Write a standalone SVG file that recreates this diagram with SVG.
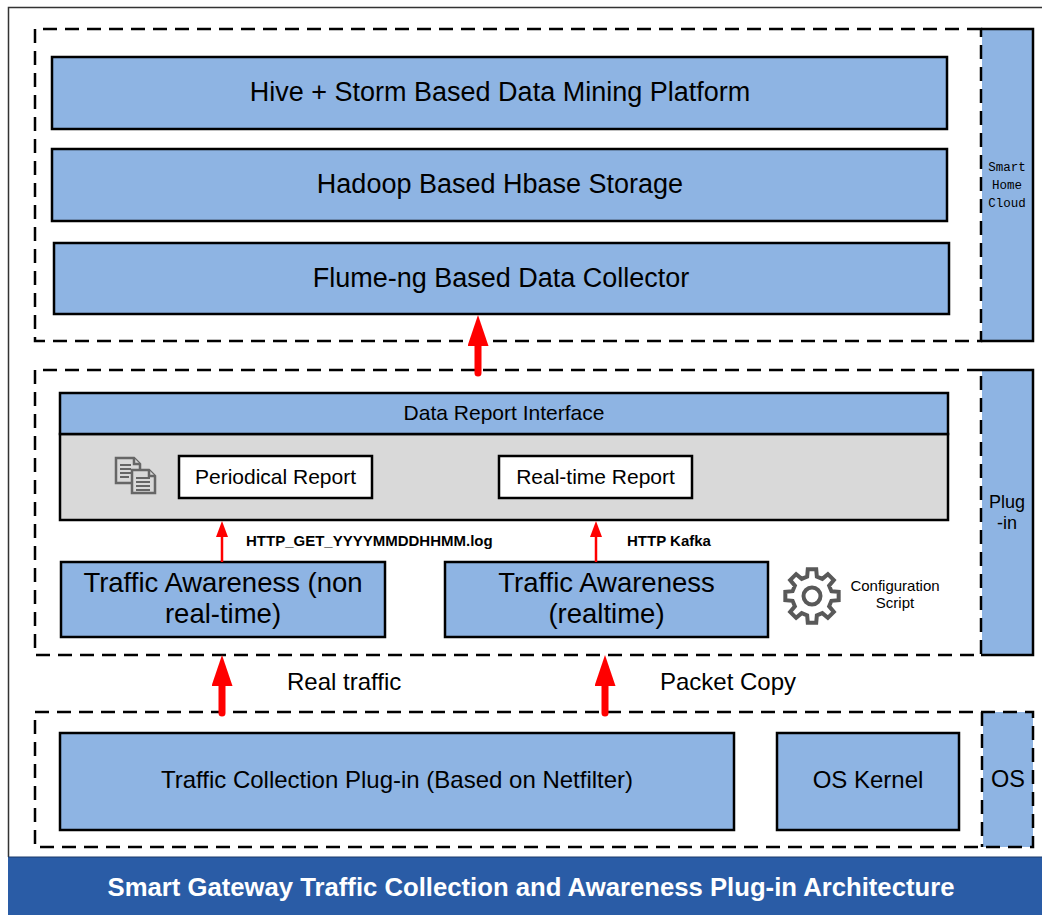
<svg xmlns="http://www.w3.org/2000/svg" width="1042" height="915" viewBox="0 0 1042 915">
<style>
.t{font-family:"Liberation Sans",Arial,sans-serif;fill:#000}
.box{fill:#8eb4e3;stroke:#000;stroke-width:2.5}
.dash{fill:none;stroke:#000;stroke-width:2.5;stroke-dasharray:14 8}
.solid{fill:none;stroke:#000;stroke-width:2.5}
.bar{fill:#8eb4e3}
.wbox{fill:#fff;stroke:#000;stroke-width:2.5}
.ico{fill:#d9d9d9;stroke:#666;stroke-width:2.5;stroke-linejoin:miter}
.big{stroke:#ff0000;stroke-width:7;stroke-linecap:round;fill:none}
.thin{stroke:#ff0000;stroke-width:2.5;fill:none}
.mono{font-family:"Liberation Mono","DejaVu Sans Mono",monospace;font-size:12.5px}
</style>
<defs>
<marker id="bigHead" viewBox="0 0 31 21" refX="0" refY="10.5" markerWidth="31" markerHeight="21" markerUnits="userSpaceOnUse" orient="auto"><path d="M0,0 L31,10.5 L0,21 Z" fill="#ff0000"/></marker>
<marker id="smallHead" viewBox="0 0 16 12" refX="0" refY="6" markerWidth="16" markerHeight="12" markerUnits="userSpaceOnUse" orient="auto"><path d="M0,0 L16,6 L0,12 Z" fill="#ff0000"/></marker>
</defs>
<rect x="0" y="0" width="1042" height="915" fill="#fff"/>
<path d="M1042,7.5 H8.5 V857" fill="none" stroke="#333" stroke-width="1.5"/>

<g id="cloud-layer">
<rect class="bar" x="982" y="29" width="51" height="312"/>
<path class="solid" d="M981,29 H1033 V341 H981"/>
<path class="dash" d="M981,29 H35 V341 H981 Z"/>
<text class="t mono" x="1007" y="171" text-anchor="middle">Smart</text>
<text class="t mono" x="1007" y="189" text-anchor="middle">Home</text>
<text class="t mono" x="1007" y="207" text-anchor="middle">Cloud</text>
</g>
<g id="hive">
<rect class="box" x="52" y="57" width="895" height="72"/>
<text class="t" x="500" y="101" text-anchor="middle" font-size="27">Hive + Storm Based Data Mining Platform</text>
</g>
<g id="hadoop">
<rect class="box" x="52" y="149" width="895" height="72"/>
<text class="t" x="500" y="193" text-anchor="middle" font-size="27">Hadoop Based Hbase Storage</text>
</g>
<g id="flume">
<rect class="box" x="54" y="243" width="895" height="71"/>
<text class="t" x="501" y="287" text-anchor="middle" font-size="27">Flume-ng Based Data Collector</text>
</g>

<g id="plugin-layer">
<rect class="bar" x="982" y="370" width="51" height="285"/>
<path class="solid" d="M981,370 H1033 V655 H981"/>
<path class="dash" d="M981,370 H35 V655 H981 Z"/>
<text class="t" x="1007" y="508" text-anchor="middle" font-size="18">Plug</text>
<text class="t" x="1007" y="529" text-anchor="middle" font-size="18">-in</text>
</g>
<g id="data-report-interface">
<rect x="60" y="434" width="888" height="86" fill="#d9d9d9" stroke="#000" stroke-width="2.5"/>
<rect class="box" x="60" y="393" width="888" height="41"/>
<text class="t" x="504" y="420" text-anchor="middle" font-size="21">Data Report Interface</text>
<g id="doc-icon">
<path class="ico" d="M116,458 H134 L140,464 V483 H116 Z"/>
<path class="ico" fill="none" d="M134,458 V464 H140"/>
<path stroke="#666" stroke-width="1.8" d="M120,465 H131 M120,469 H131 M120,473 H131 M120,477 H129"/>
<path class="ico" d="M132,470 H149 L155,476 V493 H132 Z"/>
<path class="ico" fill="none" d="M149,470 V476 H155"/>
<path stroke="#666" stroke-width="1.8" d="M136,478 H150 M136,482 H150 M136,486 H150 M136,490 H150"/>
</g>
</g>
<g id="periodical-report">
<rect class="wbox" x="179" y="456" width="193" height="42"/>
<text class="t" x="275.5" y="484" text-anchor="middle" font-size="21">Periodical Report</text>
</g>
<g id="realtime-report">
<rect class="wbox" x="499" y="456" width="193" height="42"/>
<text class="t" x="595.5" y="484" text-anchor="middle" font-size="21">Real-time Report</text>
</g>
<g id="ta-nonrealtime">
<rect class="box" x="61" y="562" width="324" height="75"/>
<text class="t" x="223" y="592" text-anchor="middle" font-size="27.5">Traffic Awareness (non</text>
<text class="t" x="223" y="623" text-anchor="middle" font-size="27.5">real-time)</text>
</g>
<g id="ta-realtime">
<rect class="box" x="445" y="562" width="323" height="75"/>
<text class="t" x="606.5" y="592" text-anchor="middle" font-size="27.5">Traffic Awareness</text>
<text class="t" x="606.5" y="623" text-anchor="middle" font-size="27.5">(realtime)</text>
</g>
<g id="config-script">
<g transform="translate(812,596)" fill="none" stroke="#595959" stroke-width="4" stroke-linejoin="miter">
<path d="M19.41,-4.84 L26.67,-4.22 L26.67,4.22 L19.41,4.84 L17.14,10.30 L21.84,15.87 L15.87,21.84 L10.30,17.14 L4.84,19.41 L4.22,26.67 L-4.22,26.67 L-4.84,19.41 L-10.30,17.14 L-15.87,21.84 L-21.84,15.87 L-17.14,10.30 L-19.41,4.84 L-26.67,4.22 L-26.67,-4.22 L-19.41,-4.84 L-17.14,-10.30 L-21.84,-15.87 L-15.87,-21.84 L-10.30,-17.14 L-4.84,-19.41 L-4.22,-26.67 L4.22,-26.67 L4.84,-19.41 L10.30,-17.14 L15.87,-21.84 L21.84,-15.87 L17.14,-10.30 Z"/>
<circle cx="0" cy="0" r="8.5"/>
</g>
<text class="t" x="895" y="591" text-anchor="middle" font-size="15">Configuration</text>
<text class="t" x="895" y="608" text-anchor="middle" font-size="15">Script</text>
</g>

<g id="os-layer">
<rect class="bar" x="983" y="712" width="50" height="135"/>
<path class="dash" d="M35,712 H1033 V847 H35 Z"/>
<path class="dash" d="M982,712 V847"/>
<text class="t" x="1008" y="787" text-anchor="middle" font-size="23.5">OS</text>
</g>
<g id="traffic-collection">
<rect class="box" x="60" y="733" width="674" height="97"/>
<text class="t" x="397" y="788" text-anchor="middle" font-size="24">Traffic Collection Plug-in (Based on Netfilter)</text>
</g>
<g id="os-kernel">
<rect class="box" x="777" y="733" width="182" height="97"/>
<text class="t" x="868" y="788" text-anchor="middle" font-size="24">OS Kernel</text>
</g>

<g id="connectors">
<line class="big" x1="478" y1="373" x2="478" y2="346" marker-end="url(#bigHead)"/>
<line class="big" x1="222" y1="713" x2="222" y2="686" marker-end="url(#bigHead)"/>
<line class="big" x1="605" y1="713" x2="605" y2="686" marker-end="url(#bigHead)"/>
<line class="thin" x1="222" y1="562" x2="222" y2="537" marker-end="url(#smallHead)"/>
<line class="thin" x1="596" y1="562" x2="596" y2="537" marker-end="url(#smallHead)"/>
<text class="t" x="246" y="546" font-size="15" font-weight="bold">HTTP_GET_YYYYMMDDHHMM.log</text>
<text class="t" x="627" y="546" font-size="15" font-weight="bold">HTTP Kafka</text>
<text class="t" x="287" y="690" font-size="24">Real traffic</text>
<text class="t" x="660" y="690" font-size="24">Packet Copy</text>
</g>

<g id="title">
<rect x="8" y="857" width="1034" height="58" fill="#2a5ca6"/>
<path d="M8,857 H1042" stroke="#1a3a6a" stroke-width="1"/>
<text class="t" x="531" y="896" text-anchor="middle" font-size="25.7" font-weight="bold" style="fill:#fff">Smart Gateway Traffic Collection and Awareness Plug-in Architecture</text>
</g>
</svg>
